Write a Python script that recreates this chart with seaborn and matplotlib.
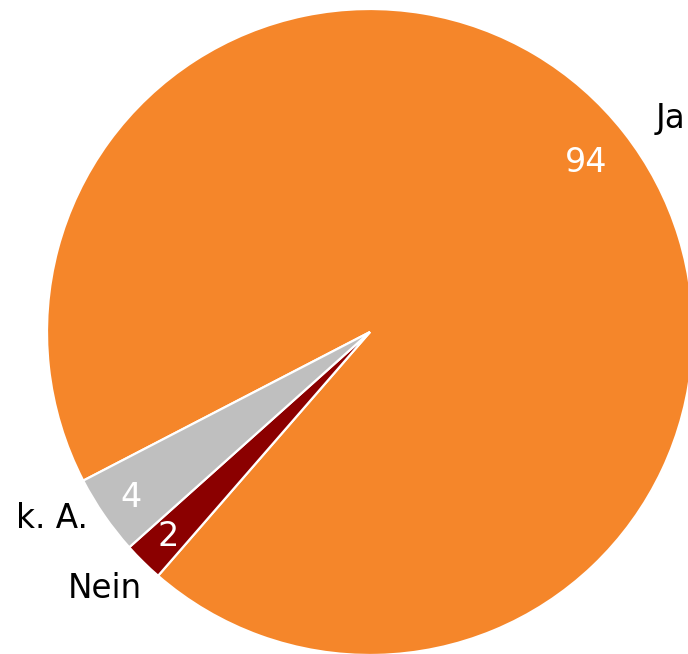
import numpy as np
import matplotlib
matplotlib.use("Agg")
import matplotlib.pyplot as plt
import seaborn as sns

sns.set_theme(style="white")
plt.rcParams["font.family"] = ["DejaVu Sans"]

# Survey answers (percent)
categories = ["Ja", "Nein", "k. A."]
values = [94, 2, 4]
colors = ["#F5862A", "#8B0000", "#BFBFBF"]

# Placement of the number inside each slice (fraction of radius)
inner_radius = [0.85, 0.89, 0.90]
# Outer category label: radius and nudge in points
outer_radius = 1.14
outer_nudge = [(8, -10), (-5, 4), (-11, 16)]

fig = plt.figure(figsize=(6.88, 6.54), dpi=100)
ax = fig.add_axes([0, 0, 1, 1])

wedges, _ = ax.pie(
    values,
    colors=colors,
    startangle=207.4,
    counterclock=False,
    radius=1.0,
    wedgeprops=dict(edgecolor="white", linewidth=1.6),
)

for w, cat, val, ri, nudge in zip(wedges, categories, values, inner_radius, outer_nudge):
    mid = np.deg2rad((w.theta1 + w.theta2) / 2.0)
    ax.text(ri * np.cos(mid), ri * np.sin(mid), str(val), color="white",
            fontsize=24, ha="center", va="center")
    ax.annotate(cat, xy=(outer_radius * np.cos(mid), outer_radius * np.sin(mid)),
                xytext=nudge, textcoords="offset points",
                fontsize=23.5, color="black", ha="center", va="center")

ax.set_xlim(-370 / 323, 318 / 323)
ax.set_ylim(-322 / 323, 332 / 323)
ax.set_aspect("equal")
ax.axis("off")

fig.savefig("out.png", dpi=100)
